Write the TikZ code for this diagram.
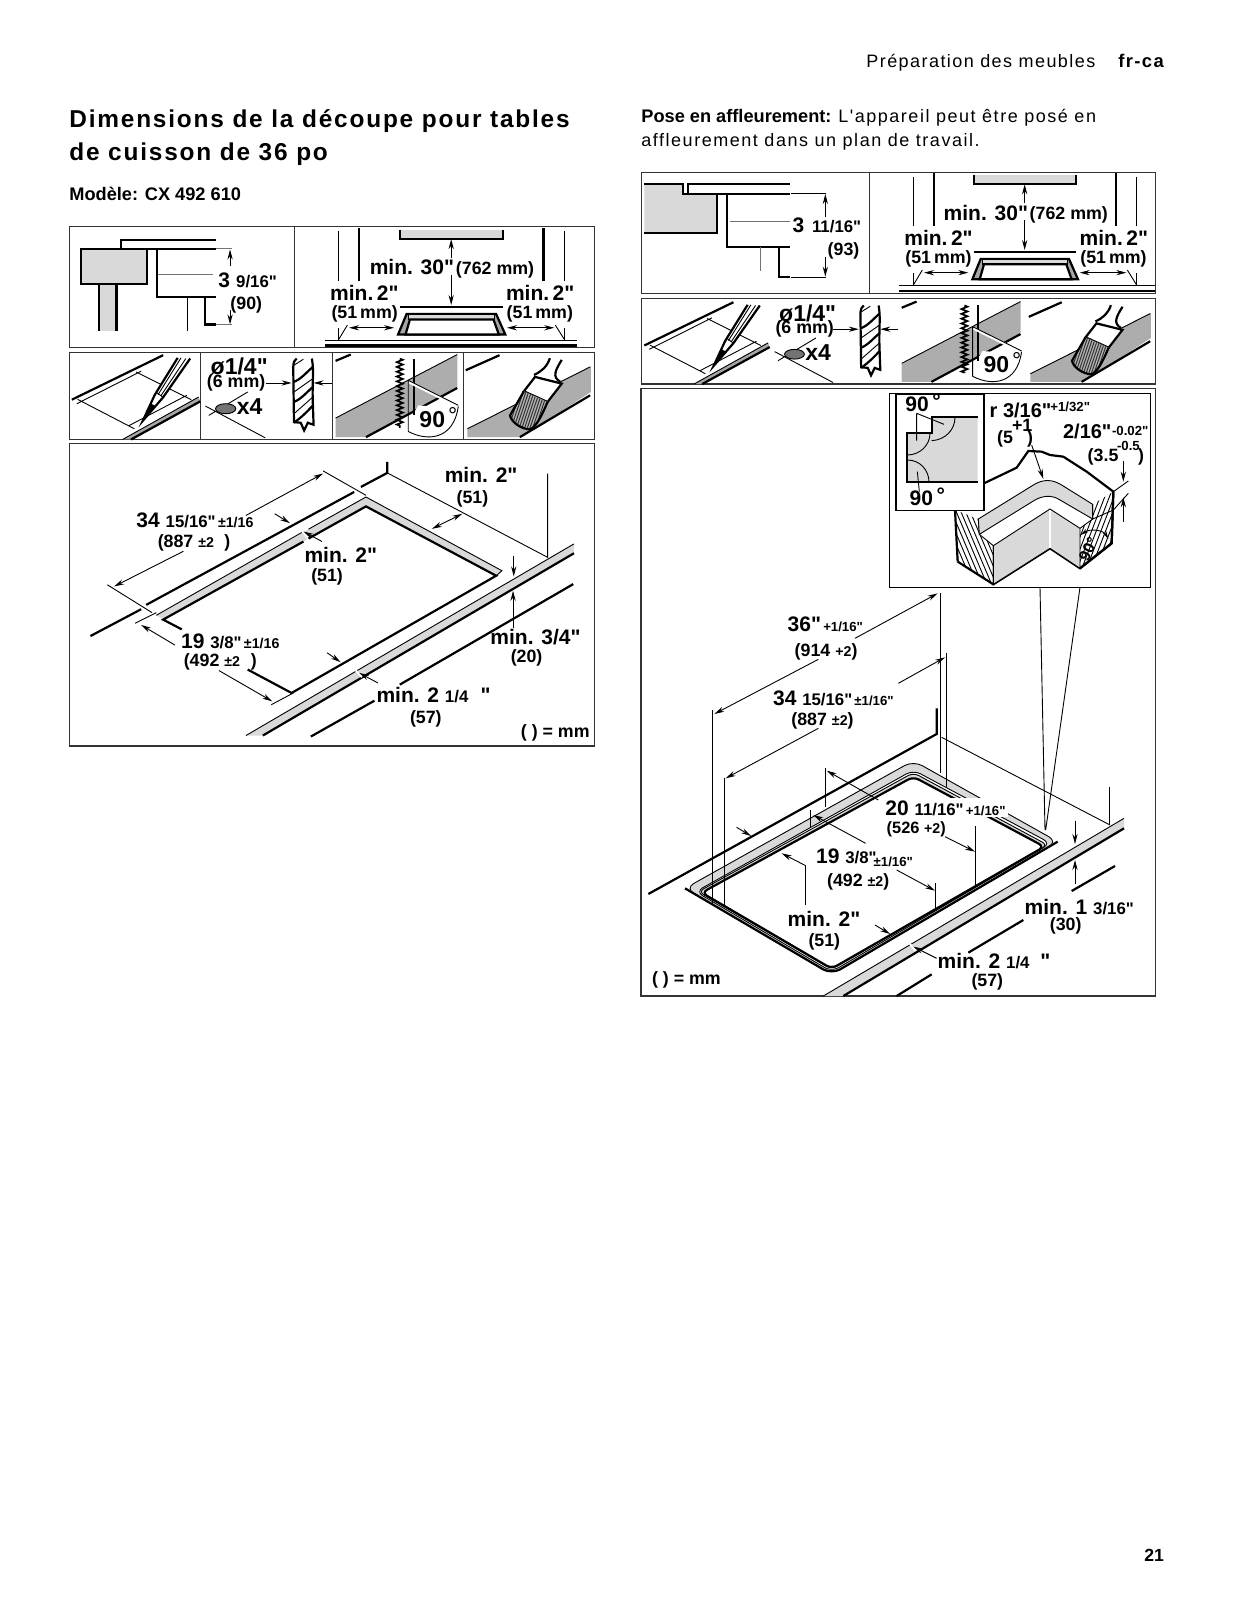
\documentclass[tikz,border=0pt]{standalone}
\usepackage{fontspec}
\setmainfont[Ligatures=TeXOff]{Liberation Sans}
\newfontfamily\lsr[LetterSpace=8]{Liberation Sans}
\newfontfamily\lsb[LetterSpace=7.4]{Liberation Sans Bold}
\newfontfamily\lsm[LetterSpace=8.5]{Liberation Sans}
\usetikzlibrary{arrows.meta,decorations.pathmorphing}
\newcounter{tn}
\newcommand\fa{\fontsize{10.5}{12}\selectfont\bfseries}
\newcommand\fb{\fontsize{8.4}{10}\selectfont\bfseries}
\newcommand\fc{\fontsize{8.9}{10}\selectfont\bfseries}
\newcommand\fd{\fontsize{7.1}{8}\selectfont\bfseries}
\newcommand\ff{\fontsize{6.6}{8}\selectfont\bfseries}
\newcommand\fe{\fontsize{11.5}{12}\selectfont\bfseries}
\newcommand\Tb[3]{\stepcounter{tn}\node[txt] (t\arabic{tn}) at (#1,#2) {#3};}
\newcommand\Tc[3]{\stepcounter{tn}\node[txtc] (t\arabic{tn}) at (#1,#2) {#3};}
\newcommand\Tw[3]{\stepcounter{tn}\node[txt,fill=white,inner sep=1pt] (t\arabic{tn}) at (#1,#2) {#3};}
\tikzset{
  thk/.style={line width=1.1pt,line join=miter},
  thn/.style={line width=.45pt},
  gl/.style={line width=.45pt,black!55},
  dimn/.style={line width=.45pt,-{Stealth[length=5pt,width=2.6pt]}},
  dimb/.style={line width=.45pt,{Stealth[length=5pt,width=2.6pt]}-{Stealth[length=5pt,width=2.6pt]}},
  frm/.style={line width=.6pt,black!80},
  gry/.style={fill=black!15},
  txt/.style={anchor=base west,inner sep=0pt},
  txtc/.style={anchor=base,inner sep=0pt}
}
\newcommand\hoodpanel{%
  \draw[thn] (823,50)--(823,198) (823,340)--(823,375) (1493,50)--(1493,198) (1493,340)--(1493,375);
  \draw[thk] (885,40)--(885,198) (1430,40)--(1430,198);
  \draw[thk,gry] (1006,45)--(1006,72)--(1310,72)--(1310,45);
  \draw[dimn] (1157,128)--(1157,73);
  \draw[dimn] (1157,180)--(1157,270);
  \draw[thk] (1005,277)--(1310,277);
  \draw[thk,fill=black!35] (1000,358)--(1025,297)--(1290,297)--(1317,358)--cycle;
  \draw[thn,gry] (1030,297)--(1285,297)--(1285,313)--(1030,313)--cycle;
  \draw[thk,fill=white] (1022,358)--(1035,313)--(1282,313)--(1298,358)--cycle;
  \draw[dimb] (855,338)--(988,338);
  \draw[dimb] (1322,338)--(1462,338);
  \draw[thn] (823,375)--(850,330) (1493,375)--(1465,330);
}
\newcommand\toolpanel{%
  % pencil
  \draw[thk] (35,553)--(305,420);
  \draw[thn] (52,552)--(220,640) (50,565)--(240,468) (225,470)--(388,553) (375,540)--(205,630);
  \fill[black!35] (185,672)--(410,545)--(415,558)--(210,672)--cycle;
  \draw[thn] (185,672)--(410,545);
  \draw[thk] (210,672)--(415,558);
  \draw[thk,fill=white] (348,428)--(280,539)--(245,616)--(305,546)--(385,430);
  \fill (245,616)--(270,565)--(282,572)--cycle;
  \draw[thn] (286,532)--(305,546) (358,428)--(290,538) (372,430)--(298,542);
  % drill
  \Tc{530}{478}{\fe ø1/4"}
  \Tc{521}{516}{\fc (6 mm)}
  \draw[dimn] (608,503)--(685,503);
  \draw[dimn] (805,503)--(750,503);
  \draw[thn] (430,572)--(607,667) (440,600)--(555,530);
  \draw[thn,fill=black!55] (490,580) ellipse (30 and 15);
  \Tb{522}{598}{\fe x4}
  \draw[thk] (700,430) .. controls (688,440) and (690,450) .. (690,470)--(692,620)--(712,622)--(722,645)--(733,622)--(750,628)--(748,570) .. controls (745,500) and (752,470) .. (745,430);
  \draw[thk] (690,500) .. controls (710,495) and (730,470) .. (748,455);
  \draw[thk] (692,560) .. controls (715,550) and (730,530) .. (748,515);
  \draw[thk] (692,622) .. controls (715,605) and (730,590) .. (748,570);
  \draw[thn] (692,450)--(720,432) (692,530)--(748,490) (692,595)--(748,545);
  % saw
  \draw[thk] (815,437)--(860,418);
  \fill[black!32] (815,608)--(1175,418)--(1175,515)--(905,665)--(815,665)--cycle;
  \draw[thn] (815,608)--(1175,418);
  \draw[thk] (905,665)--(1175,518);
  \draw[line width=.85pt,decorate,decoration={zigzag,segment length=2.4pt,amplitude=1.5pt}] (1005,430)--(1005,637);
  \draw[thk] (1047,430)--(1047,600);
  \draw[white,line width=1.4pt] (1032,500)--(1178,573);
  \fill[white] (1030,620)--(1060,570)--(1178,580)--(1170,660)--(1030,660)--cycle;
  \draw[thk] (1047,570)--(1047,600);
  \draw[thn] (1030,495)--(1178,570) (1030,497)--(1030,648) (1030,648) .. controls (1090,680) and (1165,670) .. (1178,573);
  \Tb{1062}{636}{\fontsize{11.5}{12}\selectfont\bfseries 90\kern1.5pt\raisebox{2pt}{\mdseries°}}
  % brush
  \draw[thk] (1200,465)--(1300,420);
  \fill[black!32] (1205,640)--(1570,453)--(1570,530)--(1365,665)--(1205,665)--cycle;
  \draw[thn] (1205,640)--(1568,455);
  \draw[thk] (1360,665)--(1568,540);
  \draw[thk] (1449,429) .. controls (1440,455) and (1425,468) .. (1402,479);
  \draw[thk] (1484,434) .. controls (1465,465) and (1455,485) .. (1479,499);
  \draw[thk,fill=white] (1405,485)--(1484,505)--(1442,560)--(1372,528)--cycle;
  \begin{scope}
    \clip (1372,528)--(1442,560) .. controls (1425,600) and (1410,632) .. (1390,642) .. controls (1362,640) and (1335,620) .. (1331,600) --cycle;
    \fill[black!30] (1320,520) rectangle (1450,650);
    \foreach \i in {1330,1338,...,1450} \draw[line width=.5pt,black!80] (\i,530)--(\i-40,650);
  \end{scope}
  \draw[thk] (1372,528)--(1331,600) .. controls (1335,620) and (1362,640) .. (1390,642) .. controls (1410,632) and (1425,600) .. (1442,560);
}
\begin{document}
\begin{tikzpicture}[x=.5pt,y=-.5pt]
\useasboundingbox (0,0) rectangle (1237,1600);
\fill[white] (0,0) rectangle (1237,1600);
% page text
\Tb{866}{68}{\fontsize{9}{11}\selectfont\lsr Préparation des meubles}
\Tb{1118}{68}{\fontsize{9.2}{11}\selectfont\lsb fr-ca}
\Tb{69}{127}{\fontsize{12.2}{14}\selectfont\lsb Dimensions de la découpe pour tables}
\Tb{69}{161}{\fontsize{12.2}{14}\selectfont\lsb de cuisson de 36 po}
\Tb{69}{200}{\fontsize{9.1}{10}\selectfont\bfseries Modèle: CX 492 610}
\Tb{641}{123}{\fontsize{9.1}{10}\selectfont\bfseries Pose en affleurement: \fontsize{9}{10}\selectfont\lsm\mdseries L'appareil peut être posé en}
\Tb{641}{147}{\fontsize{9}{10}\selectfont\lsm affleurement dans un plan de travail.}
\Tb{1144}{1561}{\fontsize{8.8}{10}\selectfont\bfseries 21}
% === Left column ===
\begin{scope}[shift={(60,214.7)},xscale=.3381,yscale=.3345]
  \draw[frm] (27,35) rectangle (1582,398);
  \draw[frm] (693,35)--(693,398);
  \draw[frm] (27,412) rectangle (1582,672);
  \draw[frm] (415,412)--(415,672) (805,412)--(805,672) (1193,412)--(1193,672);
  % section detail
  \draw[thk] (181,100)--(181,75)--(462,75);
  \draw[thk,gry] (115,347)--(115,208)--(167,208)--(167,347);
  \draw[thk,gry] (62,102) rectangle (258,208);
  \draw[thk] (62,102)--(462,102);
  \draw[thk] (287,102)--(287,245)--(462,245);
  \draw[thk] (430,245)--(430,328)--(462,328);
  \draw[gl] (290,178)--(452,178);
  \draw[thn] (378,245)--(378,347);
  \draw[gl] (462,102)--(510,102) (462,328)--(510,328);
  \draw[dimn] (503,152)--(503,104);
  \draw[dimn] (503,285)--(503,328);
  \Tb{467}{219}{\fa 3}
  \Tb{520}{219}{\fb 9/16"}
  \Tb{503}{282}{\fc (90)}
  \hoodpanel
  \draw[thn] (785,375)--(1530,375);
  \draw[line width=1.3pt] (785,391)--(1530,391);
  \Tb{915}{180}{\fa min. 30"}
  \Tb{1170}{178}{\fc (762 mm)}
  \Tb{798}{256}{\fa min.\,2"}
  \Tb{802}{310}{\fc (51\,mm)}
  \Tb{1318}{256}{\fa min.\,2"}
  \Tb{1320}{310}{\fc (51\,mm)}
  \toolpanel
\end{scope}
\begin{scope}[shift={(60,430)},xscale=.3381,yscale=.335]
  \draw[frm] (27,40) rectangle (1582,943);
  \draw[thk] (890,170)--(968,128)--(968,95);
  \draw[thk] (255,522)--(870,185);
  \draw[thk] (90,615)--(240,535);
  \draw[thn] (968,128)--(1442,380)--(1442,130);
  % front strip
  \fill[black!15] (550,912)--(1520,340)--(1520,368)--(600,912)--cycle;
  \draw[thn] (550,912)--(1520,340);
  \draw[thk] (600,912)--(1520,368);
  \draw[white,line width=.9pt] (875,718)--(893,738);
  \draw[thk] (742,915)--(930,808) (1005,760)--(1518,460);
  % cut-out
  \fill[black!15] (285,553)--(905,200)--(1307,420)--(1290,435)--(905,228)--(308,566)--cycle;
  \draw[white,line width=1pt] (718,303)--(738,328);
  \draw[thn] (285,553)--(715,306) (735,296)--(905,200)--(1307,420)--(1290,435);
  \draw[thk] (360,595)--(305,566)--(720,333) (735,324)--(905,228)--(1290,435)--(685,785)--(555,715);
  % dimensions
  \draw[thn] (140,462)--(272,545) (778,122)--(905,195);
  \draw[dimn] (365,362)--(160,467);
  \draw[dimn] (550,255)--(778,130);
  \draw[dimn] (635,250)--(680,278);
  \draw[dimn] (775,333)--(720,303);
  \draw[dimb] (1100,295)--(1190,250);
  \draw[dimn] (1342,375)--(1342,437);
  \draw[dimn] (1340,590)--(1340,480);
  \draw[thn] (222,577)--(285,545);
  \draw[dimn] (340,642)--(240,582);
  \draw[dimn] (470,718)--(628,810);
  \draw[thn] (625,820)--(690,785);
  \draw[dimn] (790,665)--(830,693);
  \draw[dimn] (940,755)--(885,725);
  % labels
  \Tb{225}{290}{\fa 34 \fb 15/16"{\fd\,±1/16}}
  \Tb{288}{350}{\fc (887 {\fd ±2}}
  \Tb{485}{350}{\fc )}
  \Tb{1137}{158}{\fa min. 2"}
  \Tc{1220}{218}{\fc (51)}
  \Tb{722}{395}{\fa min. 2"}
  \Tb{742}{452}{\fc (51)}
  \Tb{357}{652}{\fa 19 \fb 3/8"{\fd\,±1/16}}
  \Tb{365}{705}{\fc (492 {\fd ±2}}
  \Tb{563}{705}{\fc )}
  \Tb{1272}{640}{\fa min. 3/4"}
  \Tc{1380}{693}{\fc (20)}
  \Tb{935}{813}{\fa min. 2 \fb 1/4}
  \Tb{1243}{813}{\fa "}
  \Tc{1082}{875}{\fc (57)}
  \Tb{1362}{918}{\fc ( ) = mm}
\end{scope}
% === Right column ===
\begin{scope}[shift={(620,160)},scale=.33333]
  \draw[frm] (65,38) rectangle (1606,400);
  \draw[frm] (748,38)--(748,400);
  \draw[frm] (65,415) rectangle (1606,672);
  \fill[black!15] (73,72)--(190,72)--(190,102)--(290,102)--(290,218)--(73,218)--cycle;
  \draw[thk] (73,72)--(190,72)--(190,102)--(510,102);
  \draw[thk] (205,102)--(205,72)--(510,72);
  \draw[thk] (290,102)--(290,218)--(73,218);
  \draw[thk] (322,102)--(322,260)--(510,260);
  \draw[thk] (478,260)--(478,350)--(510,350);
  \draw[gl] (330,185)--(510,185);
  \draw[gl] (422,260)--(422,332);
  \draw[thn] (512,100)--(618,100) (512,352)--(618,352);
  \draw[dimn] (616,170)--(616,102);
  \draw[dimn] (616,290)--(616,350);
  \Tb{517}{218}{\fa 3}
  \Tb{575}{218}{\fb 11/16"}
  \Tb{622}{285}{\fc (93)}
  \begin{scope}[shift={(57,0)}]\hoodpanel\end{scope}
  \draw[thn] (838,375)--(1606,375);
  \draw[line width=1.3pt] (838,393)--(1606,393);
  \Tb{970}{180}{\fa min. 30"}
  \Tb{1228}{178}{\fc (762 mm)}
  \Tb{852}{256}{\fa min.\,2"}
  \Tb{855}{310}{\fc (51\,mm)}
  \Tb{1378}{256}{\fa min.\,2"}
  \Tb{1380}{310}{\fc (51\,mm)}
\end{scope}
\begin{scope}[shift={(632.77,165.73)},xscale=.33,yscale=.325]
  \toolpanel
\end{scope}
% big panel
\begin{scope}[shift={(625,580)},scale=.33333]
  \draw[frm] (48,-575) rectangle (1591,1248);
  \draw[thk] (70,942)--(935,462)--(935,385);
  \draw[thn] (950,472)--(1455,735);
  \draw[thn] (1453,620)--(1453,735);
  \fill[black!15] (595,1248)--(1497,715)--(1497,745)--(655,1248)--cycle;
  \draw[thn] (595,1248)--(1497,715);
  \draw[thk] (655,1248)--(1497,745);
  \draw[white,line width=1pt] (855,1092)--(872,1112);
  \draw[thk] (1470,858)--(1340,933) (1195,1020)--(1030,1118) (920,1183)--(815,1248);
  % cut-out rhombi
  \draw[thn,gry,rounded corners=5pt] (180,925)--(865,542)--(1298,785)--(620,1183)--cycle;
  \draw[thk,rounded corners=5pt] (180,925)--(620,1183)--(1298,785);
  \draw[thn,fill=white,rounded corners=4pt] (212,935)--(865,570)--(1277,790)--(620,1175)--cycle;
  \draw[thn,gry,rounded corners=3pt] (220,935)--(865,578)--(1268,795)--(620,1168)--cycle;
  \draw[thk,fill=white,rounded corners=3pt] (230,938)--(865,590)--(1258,800)--(620,1166)--cycle;
  % dimension lines
  \draw[thn] (262,390)--(262,970) (945,40)--(945,580);
  \draw[dimn] (580,238)--(268,402);
  \draw[dimn] (690,175)--(938,40);
  \draw[thn] (298,595)--(298,980) (965,218)--(965,622);
  \draw[dimn] (580,445)--(302,595);
  \draw[dimn] (820,310)--(960,232);
  \draw[thn] (602,565)--(602,680) (556,690)--(556,740) (932,910)--(932,990);
  \draw[dimn] (760,660)--(605,572);
  \draw[dimn] (722,790)--(565,705);
  \draw[dimn] (815,870)--(930,932);
  \draw[line width=.6pt] (542,975)--(542,857);
  \draw[dimn] (542,857)--(470,820);
  \draw[dimn] (335,742)--(378,768);
  \draw[dimn] (750,1035)--(795,1062);
  \draw[dimn] (935,1135)--(865,1100);
  \draw[dimn] (1350,722)--(1350,792);
  \draw[dimn] (1350,912)--(1350,840);
  % labels
  \Tb{487}{155}{\fa 36"{\ff\,+1/16"}}
  \Tb{508}{228}{\fc (914 {\fd +2})}
  \Tb{443}{375}{\fa 34 \fb 15/16"{\ff\,±1/16"}}
  \Tb{498}{435}{\fc (887 {\fd ±2})}
  \Tw{774}{705}{\fa 20 \fb 11/16"{\ff\,+1/16"}}
  \Tw{778}{760}{\fontsize{8.2}{10}\selectfont\bfseries (526 {\fd +2})}
  \draw[thn] (1050,738)--(1050,925);
  \draw[dimn] (960,770)--(1050,815);
  \Tb{572}{850}{\fa 19 \fb 3/8"}
  \Tb{745}{858}{\ff ±1/16"}
  \Tb{605}{920}{\fc (492 {\fd ±2})}
  \Tb{487}{1040}{\fa min. 2"}
  \Tc{598}{1098}{\fc (51)}
  \Tb{1198}{1002}{\fa min. 1 \fb 3/16"}
  \Tc{1322}{1052}{\fc (30)}
  \Tb{937}{1165}{\fa min. 2 \fb 1/4}
  \Tb{1245}{1165}{\fa "}
  \Tc{1087}{1220}{\fc (57)}
  \Tb{80}{1213}{\fc ( ) = mm}
\end{scope}
% inset
\begin{scope}[shift={(860,375)},scale=.33333]
  \draw[thn,fill=white] (88,55) rectangle (870,637);
  % back outline
  \draw[thk] (372,325)--(470,278)--(505,228)--(545,230)--(570,240)--(610,245)--(680,290)--(760,350);
  % left hatched
  \begin{scope}
    \clip (285,405)--(355,432)--(358,478)--(400,512)--(400,628)--(293,560)--cycle;
    \foreach \i in {150,164,...,400} \draw[thn] (\i,380)--(\i+110,640);
  \end{scope}
  \draw[thk] (293,560)--(400,628)--(570,520)--(660,580)--(755,505)--(760,350);
  \draw[thk] (293,560)--(285,405);
  \draw[thn] (355,432)--(358,478)--(400,512)--(400,628);
  % top gray
  \draw[thn,gry] (355,432)--(520,330) .. controls (550,312) and (575,312) .. (605,330)--(698,388)--(698,432)--(600,375) .. controls (575,358) and (545,362) .. (520,378)--(358,478)--cycle;
  % front
  \draw[thn,gry] (400,512)--(570,402)--(660,460)--(660,580)--(570,520)--(400,628)--cycle;
  \draw[white,line width=.6pt] (570,405)--(570,518);
  % right hatched
  \begin{scope}
    \clip (660,460)--(698,432)--(698,388)--(760,350)--(755,505)--(660,580)--cycle;
    \foreach \i in {660,674,...,900} \draw[thn] (\i,340)--(\i-100,600);
  \end{scope}
  \draw[thn] (660,460)--(698,432)--(760,405) (698,388)--(698,432);
  \draw[thk] (755,505)--(760,350);
  \draw[thk] (660,580)--(755,505);
  \node[txtc,rotate=65] (ninety) at (700,530) {\fontsize{8}{9}\selectfont\bfseries 90°};
  \draw[line width=.45pt,{Stealth[length=4pt,width=2pt]}-{Stealth[length=4pt,width=2pt]}] (662,480) .. controls (690,460) and (730,465) .. (745,492);
  % small box
  \draw[line width=.6pt,fill=white] (108,58) rectangle (372,406);
  \fill[black!15] (142,175)--(215,175)--(215,127)--(353,127)--(353,322)--(142,322)--cycle;
  \draw[thk] (353,127)--(215,127)--(215,175)--(142,175)--(142,322)--(353,322);
  \draw[thn] (142,240) .. controls (180,240) and (210,210) .. (210,175);
  \draw[thn] (215,197) .. controls (255,195) and (285,165) .. (285,127);
  \draw[thn] (142,255) .. controls (180,255) and (207,285) .. (207,322);
  \draw[thn] (170,115)--(170,197) (170,115)--(252,148) (172,290)--(178,350);
  \Tb{135}{108}{\fa 90\,\raisebox{1.5pt}{°}}
  \Tb{148}{392}{\fa 90\,\raisebox{1.5pt}{°}}
  % labels
  \Tb{388}{128}{\fontsize{10}{12}\selectfont\bfseries r 3/16"}
  \Tb{570}{108}{\ff +1/32"}
  \Tb{410}{205}{\fc (5}
  \Tb{455}{170}{\fc +1}
  \Tb{500}{205}{\fc )}
  \Tb{608}{190}{\fontsize{10}{12}\selectfont\bfseries 2/16"}
  \Tb{755}{180}{\ff -0.02"}
  \Tb{682}{258}{\fc (3.5}
  \Tb{770}{225}{\ff -0.5}
  \Tb{833}{258}{\fc )}
  \draw[dimn] (515,210)--(550,312);
  \draw[dimn] (790,258)--(790,320);
  \draw[dimn] (790,440)--(790,367);
  \draw[thn] (760,350)--(805,318) (760,405)--(805,355);
\end{scope}
% callout lines
\begin{scope}[shift={(625,580)},scale=.33333]
  \draw[thn] (1245,22)--(1260,750) (1365,22)--(1262,750);
\end{scope}
\end{tikzpicture}
\end{document}
